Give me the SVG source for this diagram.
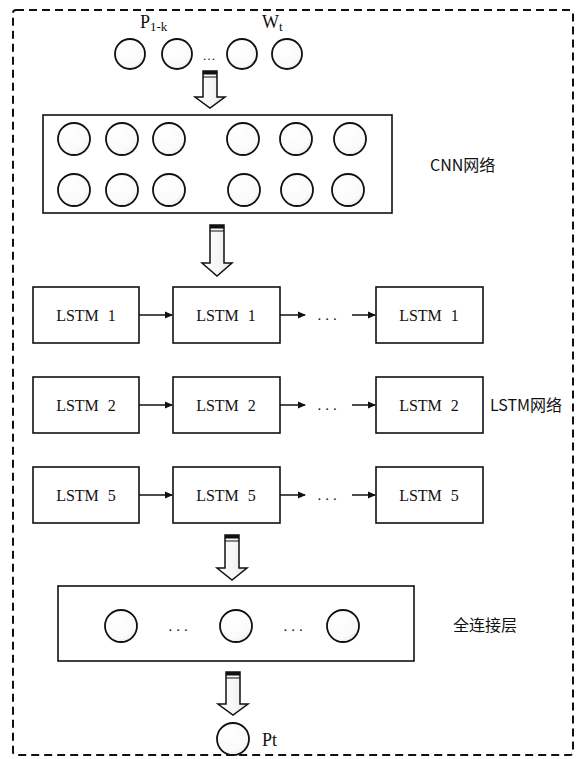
<svg xmlns="http://www.w3.org/2000/svg" width="584" height="759" viewBox="0 0 584 759">
<style>
.n{fill:url(#cg);stroke:#111;stroke-width:1.8}
.box{fill:#fff;stroke:#111;stroke-width:1.6}
.t{font-family:"Liberation Serif",serif;font-size:16px;fill:#111;text-anchor:middle;word-spacing:5px}
.cn{font-family:"Noto Sans CJK SC",sans-serif;font-size:16px;fill:#111}
.ln{stroke:#111;stroke-width:1.5;fill:none}
.dots{font-family:"Liberation Serif",serif;font-size:15px;fill:#111;text-anchor:middle;letter-spacing:4px}
</style>
<defs>
<radialGradient id="cg" cx="0.35" cy="0.3" r="0.8">
<stop offset="0" stop-color="#ffffff"/><stop offset="0.75" stop-color="#fafafa"/><stop offset="1" stop-color="#e6e6e6"/>
</radialGradient>
<linearGradient id="ag" x1="0" y1="0" x2="1" y2="0">
<stop offset="0" stop-color="#ffffff"/><stop offset="0.6" stop-color="#f5f5f5"/><stop offset="1" stop-color="#dcdcdc"/>
</linearGradient>
<marker id="ah" markerWidth="8" markerHeight="8" refX="7" refY="4" orient="auto" markerUnits="userSpaceOnUse">
<path d="M0,0.5 L8,4 L0,7.5 z" fill="#111"/>
</marker>
</defs>
<rect x="13" y="10" width="560" height="745" rx="3" fill="none" stroke="#111" stroke-width="2" stroke-dasharray="8,5"/>

<g id="input">
<circle class="n" cx="130" cy="54" r="15"/>
<circle class="n" cx="177" cy="54" r="15"/>
<text class="t" x="209" y="60" style="font-size:13px">…</text>
<circle class="n" cx="242" cy="54" r="15"/>
<circle class="n" cx="287" cy="54" r="15"/>
<text font-family="Liberation Serif,serif" font-size="18" fill="#111" x="140" y="28">P<tspan font-size="13" dy="3">1-k</tspan></text>
<text font-family="Liberation Serif,serif" font-size="18" fill="#111" x="262" y="28">W<tspan font-size="13" dy="3">t</tspan></text>
</g>

<g id="cnn">
<rect class="box" x="43" y="115" width="349" height="98"/>
<circle class="n" cx="74" cy="139" r="16"/>
<circle class="n" cx="122" cy="139" r="16"/>
<circle class="n" cx="169" cy="139" r="16"/>
<circle class="n" cx="243" cy="139" r="16"/>
<circle class="n" cx="296" cy="139" r="16"/>
<circle class="n" cx="350" cy="139" r="16"/>
<circle class="n" cx="74" cy="190" r="16"/>
<circle class="n" cx="122" cy="190" r="16"/>
<circle class="n" cx="169" cy="190" r="16"/>
<circle class="n" cx="244" cy="190" r="16"/>
<circle class="n" cx="297" cy="190" r="16"/>
<circle class="n" cx="348" cy="190" r="16"/>
<text class="cn" x="430" y="171">CNN网络</text>
</g>

<g id="lstm1">
<rect class="box" x="33" y="287" width="106" height="56"/><text class="t" x="86" y="321">LSTM 1</text>
<rect class="box" x="173" y="287" width="107" height="56"/><text class="t" x="226" y="321">LSTM 1</text>
<rect class="box" x="376" y="287" width="107" height="56"/><text class="t" x="429" y="321">LSTM 1</text>
</g>
<g id="lstm2">
<rect class="box" x="33" y="377" width="106" height="56"/><text class="t" x="86" y="411">LSTM 2</text>
<rect class="box" x="173" y="377" width="107" height="56"/><text class="t" x="226" y="411">LSTM 2</text>
<rect class="box" x="376" y="377" width="107" height="56"/><text class="t" x="429" y="411">LSTM 2</text>
<text class="cn" x="490" y="411">LSTM网络</text>
</g>
<g id="lstm5">
<rect class="box" x="33" y="467" width="106" height="56"/><text class="t" x="86" y="501">LSTM 5</text>
<rect class="box" x="173" y="467" width="107" height="56"/><text class="t" x="226" y="501">LSTM 5</text>
<rect class="box" x="376" y="467" width="107" height="56"/><text class="t" x="429" y="501">LSTM 5</text>
</g>

<g id="fc">
<rect class="box" x="58" y="586" width="356" height="75"/>
<circle class="n" cx="121" cy="626" r="16"/>
<text class="dots" x="180" y="631">...</text>
<circle class="n" cx="236" cy="626" r="16"/>
<text class="dots" x="295" y="631">...</text>
<circle class="n" cx="343" cy="626" r="16"/>
<text class="cn" x="453" y="631">全连接层</text>
</g>

<g id="output">
<circle class="n" cx="233" cy="739" r="16"/>
<text font-family="Liberation Serif,serif" font-size="18" fill="#111" x="262" y="746">Pt</text>
</g>

<g id="connectors">
<line class="ln" x1="139" y1="315" x2="172" y2="315" marker-end="url(#ah)"/>
<line class="ln" x1="280" y1="315" x2="305" y2="315" marker-end="url(#ah)"/>
<text class="dots" x="329" y="320">...</text>
<line class="ln" x1="352" y1="315" x2="375" y2="315" marker-end="url(#ah)"/>
<line class="ln" x1="139" y1="405" x2="172" y2="405" marker-end="url(#ah)"/>
<line class="ln" x1="280" y1="405" x2="305" y2="405" marker-end="url(#ah)"/>
<text class="dots" x="329" y="410">...</text>
<line class="ln" x1="352" y1="405" x2="375" y2="405" marker-end="url(#ah)"/>
<line class="ln" x1="139" y1="495" x2="172" y2="495" marker-end="url(#ah)"/>
<line class="ln" x1="280" y1="495" x2="305" y2="495" marker-end="url(#ah)"/>
<text class="dots" x="329" y="500">...</text>
<line class="ln" x1="352" y1="495" x2="375" y2="495" marker-end="url(#ah)"/>

<g transform="translate(210,71)">
<path d="M-7,0 H7 V26 H15 L0,37 L-15,26 H-7 Z" fill="url(#ag)" stroke="#111" stroke-width="1.5"/>
<rect x="-7" y="0" width="14" height="3.5" fill="#111"/>
<line x1="-7" y1="6" x2="7" y2="6" stroke="#111" stroke-width="1"/>
</g>
<g transform="translate(217,225)">
<path d="M-7,0 H7 V38 H15 L0,51 L-15,38 H-7 Z" fill="url(#ag)" stroke="#111" stroke-width="1.5"/>
<rect x="-7" y="0" width="14" height="3.5" fill="#111"/>
<line x1="-7" y1="6" x2="7" y2="6" stroke="#111" stroke-width="1"/>
</g>
<g transform="translate(232,535)">
<path d="M-7,0 H7 V33 H15 L0,45 L-15,33 H-7 Z" fill="url(#ag)" stroke="#111" stroke-width="1.5"/>
<rect x="-7" y="0" width="14" height="3.5" fill="#111"/>
<line x1="-7" y1="6" x2="7" y2="6" stroke="#111" stroke-width="1"/>
</g>
<g transform="translate(233,672)">
<path d="M-7,0 H7 V32 H15 L0,43 L-15,32 H-7 Z" fill="url(#ag)" stroke="#111" stroke-width="1.5"/>
<rect x="-7" y="0" width="14" height="3.5" fill="#111"/>
<line x1="-7" y1="6" x2="7" y2="6" stroke="#111" stroke-width="1"/>
</g>
</g>
</svg>
